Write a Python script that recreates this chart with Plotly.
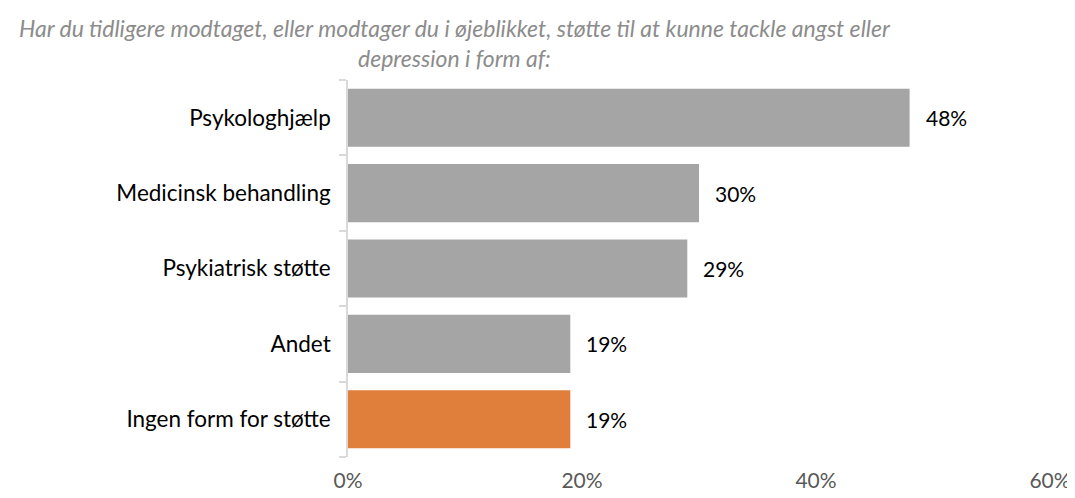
import plotly.graph_objects as go

categories = ["Psykologhjælp", "Medicinsk behandling", "Psykiatrisk støtte", "Andet", "Ingen form for støtte"]
values = [48, 30, 29, 19, 19]
labels = ["48%", "30%", "29%", "19%", "19%"]
colors = ["#A5A5A5", "#A5A5A5", "#A5A5A5", "#A5A5A5", "#E07E3C"]
tick_vals = [0, 20, 40, 60]
tick_text = ["0%", "20%", "40%", "60%"]
title_lines = ["Har du tidligere modtaget, eller modtager du i øjeblikket, støtte til at kunne tackle angst eller",
               "depression i form af:"]

FONT = "Lato"

fig = go.Figure()
fig.add_trace(go.Bar(
    y=categories, x=values, orientation="h",
    marker=dict(color=colors, line=dict(width=0)),
    hoverinfo="skip",
))

for c, v, t in zip(categories, values, labels):
    fig.add_annotation(x=v, y=c, text=t, showarrow=False, xanchor="left", xshift=14,
                       font=dict(family=FONT, size=21, color="#000000"))

fig.add_annotation(text="<br>".join(title_lines), xref="paper", yref="paper",
                   x=(455 - 348) / (1050 - 348), xanchor="center",
                   y=1 + 68 / 377, yanchor="top", showarrow=False, align="center",
                   font=dict(family=FONT, size=23, color="#8C8C8C", style="italic"))

fig.update_layout(
    width=1067, height=490,
    margin=dict(l=340, r=25, t=72, b=41),
    paper_bgcolor="white", plot_bgcolor="white",
    showlegend=False,
    bargap=0.23,
    xaxis=dict(range=[0, 60], tickvals=tick_vals, ticktext=tick_text, showgrid=False,
               zeroline=False, showline=False, ticks="", automargin=False,
               tickfont=dict(family=FONT, size=21, color="#595959"), ticklabelstandoff=9),
    yaxis=dict(categoryorder="array", categoryarray=categories[::-1], autorange=True,
               showline=True, linecolor="#D9D9D9", linewidth=1.5, automargin=False,
               ticks="outside", ticklen=7, tickcolor="#D9D9D9", tickwidth=1.5,
               tickson="boundaries", showgrid=False,
               tickfont=dict(family=FONT, size=22.5, color="#000000"), ticklabelstandoff=11),
)

fig.write_html("out.html")
